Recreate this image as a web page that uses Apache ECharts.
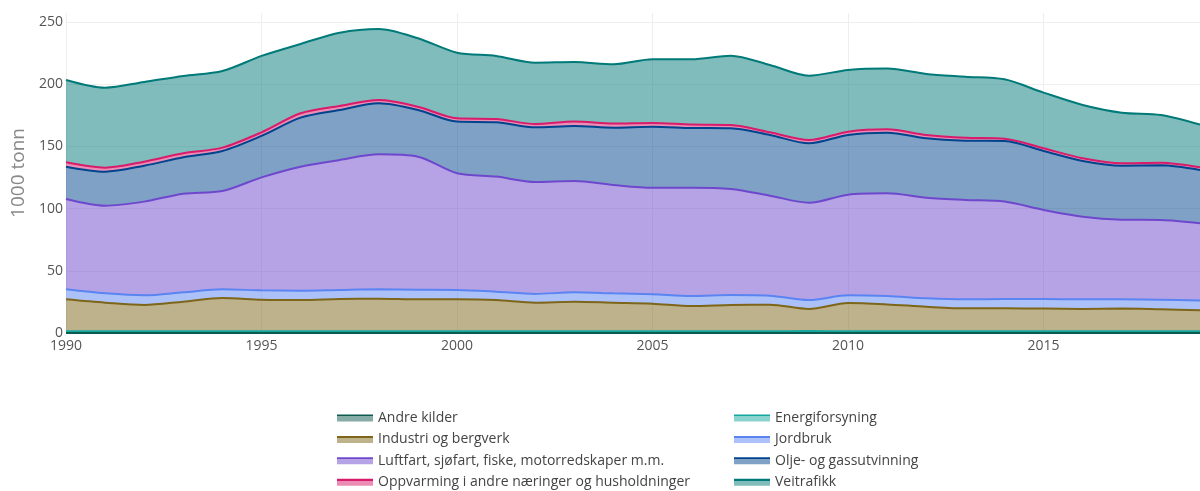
<!DOCTYPE html>
<html>
<head>
<meta charset="utf-8">
<script src="https://cdn.jsdelivr.net/npm/echarts@6/dist/echarts.min.js"></script>
<style>
  html, body { margin: 0; padding: 0; background: #fff; }
  #chart { width: 1200px; height: 491px; }
</style>
</head>
<body>
<div id="chart"></div>
<script>
// years on the x axis
var years = ['1990', '1991', '1992', '1993', '1994', '1995', '1996', '1997', '1998', '1999',
             '2000', '2001', '2002', '2003', '2004', '2005', '2006', '2007', '2008', '2009',
             '2010', '2011', '2012', '2013', '2014', '2015', '2016', '2017', '2018', '2019'];

// 1000 tonn per source (stacked in this order)
var andreKilder = [0.1, 0.1, 0.1, 0.1, 0.1, 0.1, 0.1, 0.1, 0.1, 0.1,
                   0.1, 0.1, 0.1, 0.1, 0.1, 0.1, 0.1, 0.1, 0.1, 0.1,
                   0.1, 0.1, 0.1, 0.1, 0.1, 0.1, 0.1, 0.1, 0.1, 0.1];
var energiforsyning = [1.3, 1.3, 1.3, 1.3, 1.3, 1.3, 1.3, 1.3, 1.3, 1.3,
                       1.3, 1.3, 1.3, 1.3, 1.3, 1.3, 1.3, 1.3, 1.3, 1.5,
                       1.3, 1.3, 1.3, 1.3, 1.3, 1.3, 1.3, 1.3, 1.3, 1.3];
var industri = [25.7, 23.0, 21.1, 23.8, 26.7, 25.4, 25.1, 25.9, 26.2, 25.7,
                25.7, 25.1, 23.0, 23.8, 23.0, 22.2, 20.3, 21.1, 21.4, 17.7,
                22.7, 21.6, 19.7, 18.4, 18.4, 18.2, 17.9, 18.2, 17.6, 16.9];
var jordbruk = [8.0, 7.5, 7.8, 7.5, 7.0, 7.5, 7.5, 7.3, 7.5, 7.7,
                7.5, 6.7, 7.0, 7.5, 7.5, 7.5, 8.0, 8.0, 7.2, 7.2,
                6.2, 6.7, 6.8, 7.3, 7.5, 7.7, 7.8, 7.5, 7.8, 7.8];
var luftfart = [72.6, 70.4, 75.3, 79.3, 79.0, 90.8, 99.7, 104.5, 108.5, 106.9,
                93.8, 92.5, 90.0, 89.5, 87.1, 85.7, 87.1, 85.3, 80.4, 78.2,
                80.9, 82.6, 80.9, 79.8, 78.3, 71.6, 66.4, 64.0, 64.0, 62.2];
var oljeGass = [26.0, 27.4, 28.9, 29.2, 32.2, 33.3, 39.4, 40.2, 41.0, 37.6,
                41.5, 43.7, 43.9, 44.2, 46.0, 49.0, 48.0, 48.7, 48.8, 47.8,
                48.0, 48.7, 47.7, 47.7, 48.7, 47.4, 44.8, 43.4, 44.0, 42.7];
var oppvarming = [3.5, 3.2, 3.2, 3.2, 2.7, 2.9, 3.5, 3.2, 2.7, 2.6,
                  2.7, 2.6, 2.7, 3.5, 3.3, 3.0, 2.7, 2.7, 2.1, 2.6,
                  2.6, 2.7, 2.7, 2.4, 1.9, 2.2, 2.1, 1.9, 2.1, 2.2];
var veitrafikk = [66.2, 64.3, 64.1, 62.2, 61.6, 61.4, 55.7, 58.9, 57.1, 55.0,
                  52.7, 50.7, 49.3, 47.9, 47.7, 51.2, 52.5, 55.7, 54.1, 51.7,
                  49.6, 48.8, 49.0, 49.0, 47.7, 44.7, 42.9, 40.7, 38.3, 34.3];

var names = ['Andre kilder', 'Energiforsyning', 'Industri og bergverk', 'Jordbruk',
             'Luftfart, sjøfart, fiske, motorredskaper m.m.', 'Olje- og gassutvinning',
             'Oppvarming i andre næringer og husholdninger', 'Veitrafikk'];
var values = [andreKilder, energiforsyning, industri, jordbruk, luftfart, oljeGass, oppvarming, veitrafikk];
var lineColors = ['#0e5a50', '#13a89e', '#7d6619', '#5a84f2', '#6e48cc', '#00448e', '#d81b6a', '#007a78'];

function hexA(hex, a) {
  var n = parseInt(hex.slice(1), 16);
  return 'rgba(' + (n >> 16) + ',' + ((n >> 8) & 255) + ',' + (n & 255) + ',' + a + ')';
}

var series = names.map(function (name, i) {
  return {
    name: name,
    type: 'line',
    stack: 'total',
    smooth: 0.3,
    symbol: 'none',
    z: 20 - i,
    lineStyle: { width: 2, color: lineColors[i] },
    itemStyle: { color: lineColors[i] },
    areaStyle: { color: lineColors[i], opacity: 0.5 },
    data: values[i]
  };
});

function legendItem(i) {
  return {
    name: names[i],
    itemStyle: {
      color: new echarts.graphic.LinearGradient(0, 0, 0, 1, [
        { offset: 0, color: lineColors[i] },
        { offset: 0.28, color: lineColors[i] },
        { offset: 0.28, color: hexA(lineColors[i], 0.5) },
        { offset: 1, color: hexA(lineColors[i], 0.5) }
      ])
    }
  };
}

var legendBase = {
  orient: 'vertical',
  top: 411,
  padding: 0,
  icon: 'rect',
  itemWidth: 36,
  itemHeight: 7,
  itemGap: 7.4,
  selectedMode: false,
  textStyle: { color: '#444', fontSize: 14, fontFamily: 'Open Sans', lineHeight: 14 }
};

var myChart = echarts.init(document.getElementById('chart'));

var option = {
  animation: false,
  backgroundColor: '#fff',
  grid: { left: 66, right: -12, top: 13, bottom: 158 },
  legend: [
    Object.assign({}, legendBase, { left: 337, data: [0, 2, 4, 6].map(legendItem) }),
    Object.assign({}, legendBase, { left: 734, data: [1, 3, 5, 7].map(legendItem) })
  ],
  xAxis: {
    type: 'category',
    data: years,
    boundaryGap: false,
    axisLine: { show: false },
    axisTick: { show: false },
    axisLabel: { color: '#555', fontSize: 14, fontFamily: 'Open Sans', margin: 6, interval: 4 },
    splitLine: { show: true, interval: 4, lineStyle: { color: '#eee', width: 1 } }
  },
  yAxis: {
    type: 'value',
    min: 0,
    max: 257.2,
    interval: 50,
    name: '1000 tonn',
    nameLocation: 'middle',
    nameGap: 34,
    nameTextStyle: { color: '#888', fontSize: 19, fontFamily: 'Open Sans' },
    axisLine: { show: false },
    axisTick: { show: false },
    axisLabel: { color: '#555', fontSize: 14, fontFamily: 'Open Sans', margin: 3, showMaxLabel: false },
    splitLine: { show: true, showMaxLine: false, lineStyle: { color: '#eee', width: 1 } }
  },
  series: series
};

myChart.setOption(option);
</script>
</body>
</html>
